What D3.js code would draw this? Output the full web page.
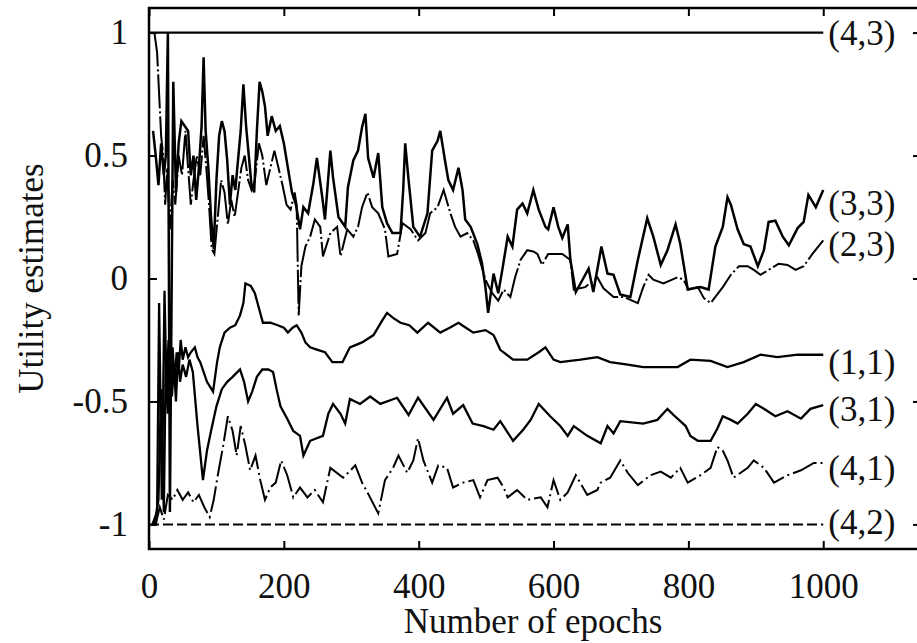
<!DOCTYPE html>
<html>
<head>
<meta charset="utf-8">
<script src="https://cdn.jsdelivr.net/npm/d3@7"></script>
<style>
  body { margin: 0; background: #fff; }
  text { font-family: "Liberation Serif", "DejaVu Serif", serif; fill: #111; }
</style>
</head>
<body>
<svg id="drawing_region"></svg>
<script>
// ticks
const xTicks = [0, 200, 400, 600, 800, 1000];
const yTicks = [-1, -0.5, 0, 0.5, 1];

// series as [epoch, utility estimate]
const s43 = [[0, 1], [1000, 1]];
const s42 = [[0, -1], [1000, -1]];

const s33 = [
  [6, 0.6], [10, 0.5], [14, 0.38], [18, 0.55], [22, 0.42], [25, 0.5], [28, 1.0], [31, -0.95],
  [36, 0.8], [40, 0.35], [44, 0.55], [48, 0.64], [53, 0.62], [58, 0.6], [62, 0.42], [66, 0.5],
  [70, 0.32], [74, 0.45], [78, 0.62], [81, 0.9], [84, 0.6], [88, 0.45], [92, 0.25], [96, 0.12],
  [100, 0.4], [104, 0.58], [108, 0.64], [112, 0.6], [116, 0.48], [120, 0.3], [124, 0.42], [128, 0.36],
  [132, 0.48], [136, 0.6], [140, 0.79], [144, 0.62], [148, 0.5], [152, 0.38], [156, 0.35], [160, 0.6],
  [164, 0.8], [168, 0.76], [172, 0.7], [176, 0.58], [182, 0.66], [188, 0.6], [194, 0.62], [200, 0.55],
  [206, 0.45], [212, 0.35], [218, 0.3], [224, 0.2], [229, 0.29], [236, 0.265], [244, 0.39], [249, 0.49],
  [257, 0.33], [261, 0.24], [269, 0.52], [273, 0.41], [281, 0.25], [291, 0.21], [295, 0.37], [303, 0.48],
  [310, 0.52], [316, 0.615], [321, 0.67], [325, 0.49], [333, 0.41], [340, 0.51], [346, 0.29], [353, 0.225],
  [361, 0.185], [373, 0.185], [377, 0.36], [380, 0.55], [385, 0.4], [392, 0.21], [402, 0.17], [413, 0.265],
  [420, 0.52], [428, 0.56], [432, 0.6], [439, 0.48], [444, 0.4], [451, 0.36], [459, 0.45], [465, 0.36],
  [469, 0.24], [477, 0.21], [487, 0.14], [494, 0.06], [499, -0.035], [503, -0.14], [511, 0.02], [518, -0.06],
  [524, 0.035], [532, 0.17], [539, 0.13], [546, 0.28], [554, 0.305], [561, 0.265], [570, 0.36], [578, 0.28],
  [588, 0.21], [592, 0.2], [600, 0.29], [607, 0.21], [613, 0.165], [621, 0.22], [625, 0.075], [633, -0.055],
  [643, -0.005], [652, 0.04], [659, -0.055], [671, 0.13], [680, 0.02], [689, 0.015], [699, -0.065], [714, -0.075],
  [725, 0.075], [739, 0.245], [748, 0.17], [759, 0.055], [769, 0.115], [781, 0.22], [788, 0.14], [799, -0.045],
  [808, -0.04], [818, -0.035], [830, -0.045], [840, 0.13], [851, 0.21], [858, 0.33], [863, 0.3], [873, 0.2],
  [882, 0.14], [892, 0.13], [903, 0.05], [912, 0.115], [919, 0.23], [929, 0.235], [940, 0.17], [949, 0.135],
  [962, 0.205], [971, 0.23], [978, 0.34], [989, 0.29], [1000, 0.36]
];

const s23 = [
  [8, 1.0], [12, 0.92], [15, 0.75], [18, 0.58], [21, 0.5], [24, 0.3], [27, 0.45], [31, 0.2],
  [35, 0.4], [39, 0.3], [44, 0.5], [49, 0.42], [54, 0.6], [58, 0.45], [62, 0.3], [66, 0.4],
  [71, 0.5], [76, 0.42], [81, 0.58], [85, 0.45], [89, 0.3], [93, 0.12], [97, 0.1], [102, 0.25],
  [107, 0.4], [112, 0.35], [117, 0.22], [122, 0.32], [127, 0.25], [132, 0.35], [137, 0.45], [142, 0.5],
  [147, 0.4], [152, 0.36], [157, 0.4], [163, 0.55], [168, 0.5], [174, 0.38], [180, 0.45], [186, 0.52],
  [192, 0.45], [198, 0.38], [204, 0.3], [210, 0.28], [216, 0.35], [219, 0.3], [222, -0.15], [226, 0.05],
  [232, 0.13], [239, 0.17], [246, 0.24], [254, 0.21], [258, 0.09], [269, 0.185], [279, 0.21], [284, 0.09],
  [294, 0.2], [303, 0.17], [310, 0.21], [316, 0.29], [324, 0.35], [331, 0.29], [340, 0.265], [350, 0.2],
  [355, 0.09], [368, 0.1], [376, 0.225], [388, 0.2], [399, 0.155], [410, 0.185], [417, 0.265], [428, 0.29],
  [437, 0.36], [447, 0.265], [454, 0.21], [462, 0.17], [472, 0.185], [481, 0.155], [488, 0.1], [499, -0.005],
  [509, -0.06], [518, -0.09], [526, -0.045], [536, -0.075], [543, 0.005], [551, 0.075], [561, 0.115], [570, 0.11],
  [576, 0.1], [583, 0.055], [592, 0.1], [613, 0.1], [625, 0.075], [630, -0.045], [647, -0.035], [665, 0.005],
  [674, -0.04], [689, -0.075], [704, -0.075], [725, -0.1], [733, -0.035], [741, 0.015], [748, -0.005], [763, -0.02],
  [784, 0.005], [793, -0.005], [800, -0.045], [814, -0.035], [823, -0.08], [833, -0.1], [840, -0.075], [851, -0.035],
  [863, 0.015], [875, 0.05], [888, 0.05], [897, 0.035], [907, 0.015], [922, 0.04], [934, 0.06], [947, 0.055],
  [959, 0.035], [971, 0.05], [984, 0.1], [1000, 0.155]
];

const s11 = [
  [5, -1.0], [12, -0.95], [15, -0.1], [19, -0.9], [23, -0.05], [26, -0.45], [29, -0.25], [32, -0.5],
  [35, -0.28], [38, -0.42], [41, -0.3], [44, -0.38], [47, -0.25], [50, -0.33], [54, -0.28], [58, -0.32],
  [62, -0.3], [68, -0.28], [72, -0.32], [76, -0.34], [86, -0.42], [95, -0.46], [101, -0.34], [105, -0.28],
  [112, -0.22], [120, -0.2], [128, -0.19], [135, -0.15], [140, -0.1], [143, -0.02], [151, -0.03], [157, -0.06],
  [163, -0.12], [169, -0.18], [180, -0.18], [191, -0.19], [200, -0.2], [206, -0.22], [213, -0.2], [219, -0.19],
  [226, -0.22], [232, -0.26], [239, -0.28], [250, -0.29], [261, -0.3], [272, -0.34], [287, -0.34], [298, -0.28],
  [316, -0.26], [333, -0.23], [346, -0.17], [353, -0.14], [362, -0.16], [373, -0.18], [386, -0.19], [398, -0.22],
  [414, -0.18], [432, -0.22], [446, -0.2], [459, -0.18], [470, -0.2], [481, -0.22], [499, -0.21], [511, -0.23],
  [521, -0.29], [540, -0.33], [561, -0.33], [578, -0.3], [588, -0.28], [600, -0.33], [610, -0.34], [640, -0.33],
  [665, -0.32], [684, -0.34], [710, -0.35], [733, -0.36], [760, -0.36], [784, -0.36], [803, -0.33], [833, -0.335],
  [858, -0.36], [882, -0.34], [907, -0.31], [932, -0.32], [962, -0.31], [1000, -0.31]
];

const s31 = [
  [8, -1.0], [14, -0.9], [18, -0.45], [22, -0.95], [25, -0.3], [28, -0.55], [31, -0.32], [34, -0.48],
  [37, -0.35], [40, -0.5], [43, -0.3], [46, -0.42], [50, -0.35], [55, -0.4], [60, -0.33], [65, -0.38],
  [72, -0.6], [80, -0.82], [86, -0.7], [92, -0.62], [100, -0.52], [108, -0.45], [116, -0.42], [124, -0.4],
  [135, -0.37], [141, -0.42], [147, -0.5], [153, -0.46], [160, -0.4], [168, -0.37], [177, -0.37], [184, -0.38],
  [190, -0.46], [195, -0.52], [205, -0.57], [214, -0.62], [224, -0.64], [229, -0.72], [239, -0.66], [258, -0.64],
  [266, -0.55], [273, -0.51], [284, -0.55], [291, -0.59], [298, -0.49], [313, -0.51], [328, -0.48], [343, -0.51],
  [368, -0.485], [385, -0.555], [399, -0.485], [422, -0.575], [442, -0.485], [451, -0.55], [466, -0.515], [480, -0.59],
  [496, -0.6], [511, -0.615], [521, -0.58], [540, -0.66], [555, -0.615], [566, -0.575], [578, -0.51], [595, -0.56],
  [610, -0.6], [621, -0.64], [630, -0.6], [650, -0.64], [670, -0.67], [680, -0.6], [689, -0.63], [699, -0.58],
  [733, -0.59], [754, -0.575], [769, -0.53], [778, -0.555], [796, -0.6], [803, -0.64], [814, -0.66], [833, -0.66],
  [843, -0.61], [851, -0.56], [863, -0.575], [873, -0.59], [888, -0.55], [900, -0.51], [912, -0.53], [929, -0.56],
  [947, -0.54], [967, -0.57], [981, -0.53], [1000, -0.515]
];

const s41 = [
  [10, -1.0], [16, -0.93], [22, -0.98], [28, -0.88], [35, -0.9], [42, -0.86], [50, -0.9], [58, -0.87],
  [66, -0.91], [74, -0.88], [82, -0.93], [90, -0.97], [96, -0.9], [102, -0.8], [110, -0.68], [117, -0.56],
  [124, -0.62], [130, -0.72], [136, -0.6], [143, -0.68], [150, -0.78], [158, -0.72], [165, -0.82], [172, -0.9],
  [180, -0.85], [188, -0.83], [196, -0.74], [205, -0.8], [214, -0.89], [224, -0.85], [235, -0.89], [246, -0.86],
  [258, -0.91], [269, -0.77], [288, -0.81], [306, -0.76], [316, -0.83], [324, -0.87], [340, -0.955], [350, -0.82],
  [362, -0.77], [370, -0.72], [383, -0.79], [392, -0.74], [399, -0.65], [407, -0.74], [420, -0.83], [429, -0.76],
  [442, -0.77], [451, -0.85], [466, -0.83], [481, -0.82], [491, -0.89], [502, -0.82], [517, -0.81], [526, -0.85],
  [532, -0.89], [546, -0.86], [561, -0.9], [581, -0.89], [591, -0.93], [600, -0.82], [610, -0.9], [621, -0.87],
  [633, -0.8], [650, -0.88], [665, -0.86], [670, -0.83], [684, -0.81], [699, -0.74], [710, -0.79], [725, -0.84],
  [744, -0.8], [759, -0.785], [774, -0.81], [788, -0.77], [799, -0.83], [818, -0.8], [833, -0.77], [843, -0.685],
  [851, -0.7], [858, -0.74], [867, -0.81], [888, -0.77], [897, -0.74], [912, -0.77], [927, -0.83], [947, -0.8],
  [967, -0.78], [986, -0.75], [1000, -0.75]
];

const seriesNames = ["(4,3)", "(3,3)", "(2,3)", "(1,1)", "(3,1)", "(4,1)", "(4,2)"];
const seriesData = [s43, s33, s23, s11, s31, s41, s42];
const labelValues = [1, 0.31, 0.14, -0.34, -0.53, -0.77, -0.99];

const styles = {
  "(4,3)": { w: 2.2, dash: null },
  "(3,3)": { w: 2.5, dash: null },
  "(2,3)": { w: 2, dash: "34,3,2,3" },
  "(1,1)": { w: 2.3, dash: null },
  "(3,1)": { w: 2.3, dash: null },
  "(4,1)": { w: 2, dash: "26,4,2,4" },
  "(4,2)": { w: 2, dash: "10,4" }
};

const config = {
  width: 917,
  height: 643,
  left: 149, right: 921, top: 8, bottom: 549
};

const svg = d3.select("#drawing_region")
  .attr("width", config.width)
  .attr("height", config.height);

const xscale = d3.scaleLinear().domain([0, 1145]).range([config.left, config.right]);
const yscale = d3.scaleLinear().domain([-1.1, 1.1]).range([config.bottom, config.top]);

const fmt = d => String(d);

// axes with inward ticks
svg.append("g")
  .attr("transform", `translate(0, ${config.bottom})`)
  .call(d3.axisBottom(xscale).tickValues(xTicks).tickSize(-8).tickPadding(24).tickFormat(fmt));

svg.append("g")
  .attr("transform", `translate(0, ${config.top})`)
  .call(d3.axisTop(xscale).tickValues(xTicks).tickSize(-8).tickFormat(""));

svg.append("g")
  .attr("transform", `translate(${config.left}, 0)`)
  .call(d3.axisLeft(yscale).tickValues(yTicks).tickSize(-8).tickPadding(21).tickFormat(fmt));

svg.append("g")
  .attr("transform", `translate(${config.right}, 0)`)
  .call(d3.axisRight(yscale).tickValues(yTicks).tickSize(-8).tickFormat(""));

svg.selectAll(".domain").remove();
svg.selectAll(".tick line").attr("stroke", "#000").attr("stroke-width", 2);
svg.selectAll(".tick text")
  .style("font-size", "35px")
  .attr("fill", "#111");

// frame
svg.append("rect")
  .attr("x", config.left)
  .attr("y", config.top)
  .attr("width", config.right - config.left)
  .attr("height", config.bottom - config.top)
  .attr("fill", "none")
  .attr("stroke", "#000")
  .attr("stroke-width", 2.5);

// lines
const line = d3.line()
  .x(d => xscale(d[0]))
  .y(d => yscale(d[1]));

seriesData.forEach((data, i) => {
  const st = styles[seriesNames[i]];
  svg.append("path")
    .datum(data)
    .attr("d", line)
    .attr("fill", "none")
    .attr("stroke", "#000")
    .attr("stroke-width", st.w)
    .attr("stroke-linejoin", "miter")
    .attr("stroke-dasharray", st.dash);
});

// series labels
svg.selectAll(".series-label")
  .data(seriesNames)
  .enter()
  .append("text")
  .attr("class", "series-label")
  .attr("x", xscale(1000) + 5)
  .attr("y", (d, i) => yscale(labelValues[i]))
  .attr("dy", "0.35em")
  .style("font-size", "35px")
  .text(d => d);

// axis titles
svg.append("text")
  .attr("x", (config.left + config.right) / 2 - 2)
  .attr("y", 633)
  .attr("text-anchor", "middle")
  .style("font-size", "35px")
  .text("Number of epochs");

svg.append("text")
  .attr("transform", `translate(43, ${(config.top + config.bottom) / 2}) rotate(-90)`)
  .attr("text-anchor", "middle")
  .style("font-size", "35px")
  .text("Utility estimates");
</script>
</body>
</html>
